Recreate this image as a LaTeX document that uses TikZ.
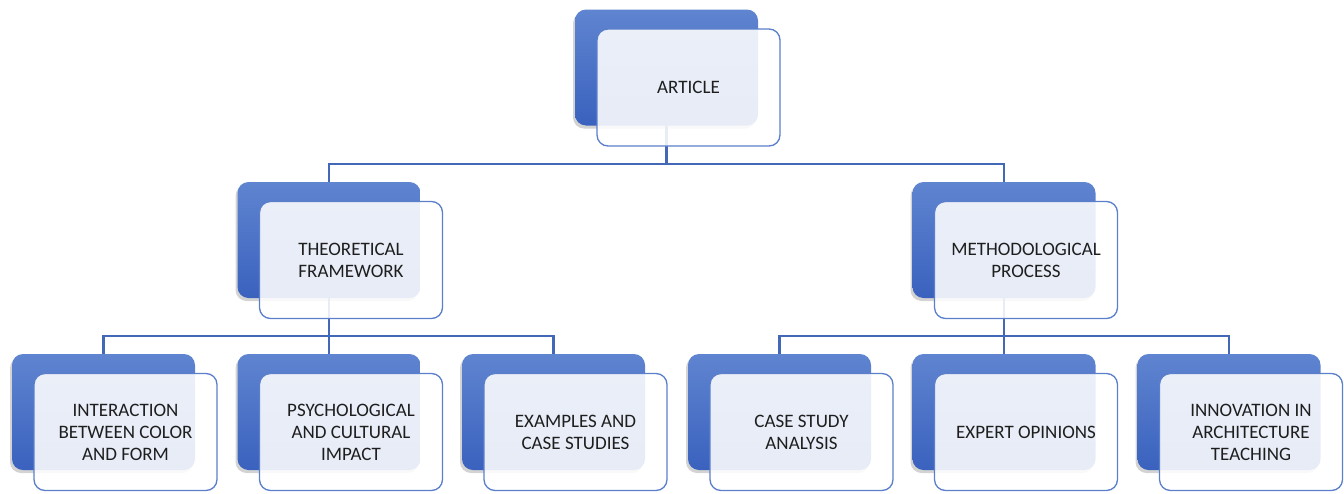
\documentclass[tikz,border=0pt]{standalone}
\usepackage{fontspec}
\setmainfont{Carlito}
\usepackage{xcolor}
\usetikzlibrary{
	calc,
	shadows,
	positioning
}
\definecolor{boxtop}{HTML}{5F84D0}
\definecolor{boxbot}{HTML}{3A62BE}
\definecolor{boxline}{HTML}{5B7FCB}
\definecolor{linkcol}{HTML}{4468B8}
\definecolor{txtcol}{HTML}{1E1E1E}
\tikzset{
	backbox/.style={rectangle, rounded corners=11pt, minimum width=183pt, minimum height=116pt,
		inner sep=0pt, top color=boxtop, bottom color=boxbot, draw=none,
		drop shadow={shadow xshift=-2pt, shadow yshift=-3pt, opacity=0.35}},
	frontbox/.style={rectangle, rounded corners=11pt, minimum width=183pt, minimum height=117pt,
		inner sep=2pt, align=center, fill=white, fill opacity=0.88, text opacity=1,
		draw=boxline, line width=1.3pt, text=txtcol,
		font=\fontsize{19}{22}\selectfont},
	link/.style={draw=linkcol, line width=2.2pt}
}
\begin{document}
\begin{tikzpicture}[x=1pt, y=-1pt]
		\useasboundingbox (0,0) rectangle (1344,493);
		% back boxes
		\foreach \n/\x/\y in {art/666.5/67.5, theo/329/240, meth/1004/240,
			inter/103.5/412, psych/329/412, exam/553.5/412,
			cases/779.5/412, expert/1004/412, innov/1229/412}
		\node[backbox] (\n-b) at (\x,\y) {};
		% connectors
		\coordinate (j1) at ($(art-b.south)+(0,38)$);
		\coordinate (j2) at ($(theo-b.south)+(0,38)$);
		\coordinate (j3) at ($(meth-b.south)+(0,38)$);
		\draw[link] (art-b.south) -- (j1);
		\draw[link] (j1) -| (theo-b.north);
		\draw[link] (j1) -| (meth-b.north);
		\draw[link] (theo-b.south) -- (j2);
		\foreach \c in {inter, psych, exam}
		\draw[link] (j2) -| (\c-b.north);
		\draw[link] (meth-b.south) -- (j3);
		\foreach \c in {cases, expert, innov}
		\draw[link] (j3) -| (\c-b.north);
		% front boxes
		\foreach \n/\t in {art/ARTICLE, theo/{THEORETICAL\\FRAMEWORK},
			meth/{METHODOLOGICAL\\PROCESS},
			inter/{INTERACTION\\BETWEEN COLOR\\AND FORM},
			psych/{PSYCHOLOGICAL\\AND CULTURAL\\IMPACT},
			exam/{EXAMPLES AND\\CASE STUDIES},
			cases/{CASE STUDY\\ANALYSIS},
			expert/EXPERT OPINIONS,
			innov/{INNOVATION IN\\ARCHITECTURE\\TEACHING}}
		\node[frontbox] (\n) at ($(\n-b.center)+(22,20)$) {\t};
	\end{tikzpicture}
\end{document}
